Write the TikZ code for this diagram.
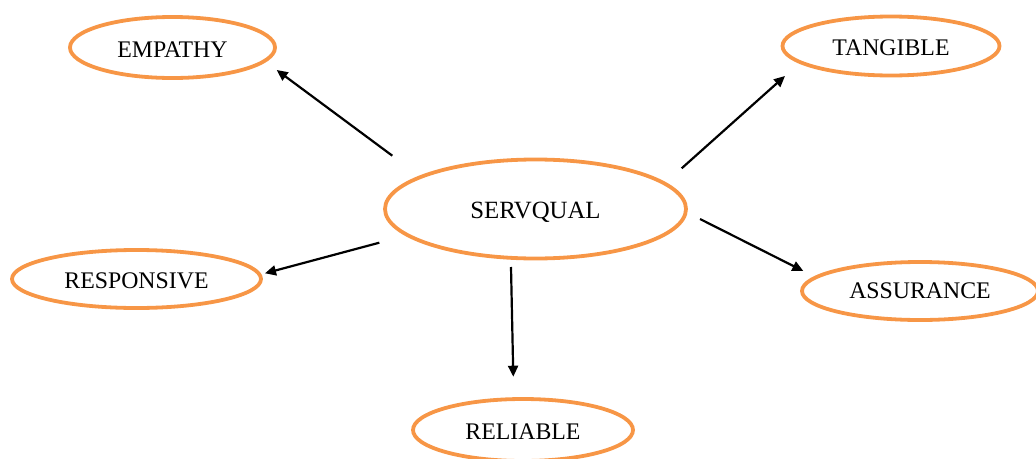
\documentclass[tikz,border=0pt]{standalone}
\usepackage{fontspec}
\setmainfont{Liberation Serif}
\usetikzlibrary{arrows.meta,shapes.geometric}
\definecolor{ovalorange}{HTML}{F79646}
\begin{document}
\begin{tikzpicture}[x=1pt,y=-1pt,
  oval/.style={ellipse,draw=ovalorange,line width=3.8pt,inner sep=0pt,
    font=\fontsize{23.8}{28}\selectfont,text height=19pt,text depth=0pt},
  conn/.style={line width=2.2pt,-{Triangle[length=11pt,width=10pt]}}]
\useasboundingbox (0,0) rectangle (1036,458);
\clip (0,0) rectangle (1036,458);
\node[oval,minimum width=205pt,minimum height=61pt] (emp) at (172.5,47.5) {EMPATHY};
\node[oval,minimum width=217pt,minimum height=59pt] (tan) at (891,46) {TANGIBLE};
\node[oval,minimum width=301pt,minimum height=99pt,font=\fontsize{24.8}{29}\selectfont] (serv) at (535.5,209) {SERVQUAL};
\node[oval,minimum width=249pt,minimum height=58pt] (resp) at (136.5,279) {RESPONSIVE};
\node[oval,minimum width=236pt,minimum height=58pt,text height=15.6pt] (ass) at (920,291) {ASSURANCE};
\node[oval,minimum width=220pt,minimum height=62pt] (rel) at (523,430) {RELIABLE};
\coordinate (empA) at (392.3,155.7);
\coordinate (empB) at (276.7,70);
\coordinate (tanA) at (681.7,168.3);
\coordinate (tanB) at (785,76);
\coordinate (respA) at (379.3,242.7);
\coordinate (respB) at (265,273.3);
\coordinate (assA) at (700,219);
\coordinate (assB) at (803.3,271);
\coordinate (relA) at (511,267);
\coordinate (relB) at (513.3,376.7);
\draw[conn] (empA) -- (empB);
\draw[conn] (tanA) -- (tanB);
\draw[conn] (respA) -- (respB);
\draw[conn] (assA) -- (assB);
\draw[conn] (relA) -- (relB);
\end{tikzpicture}
\end{document}
